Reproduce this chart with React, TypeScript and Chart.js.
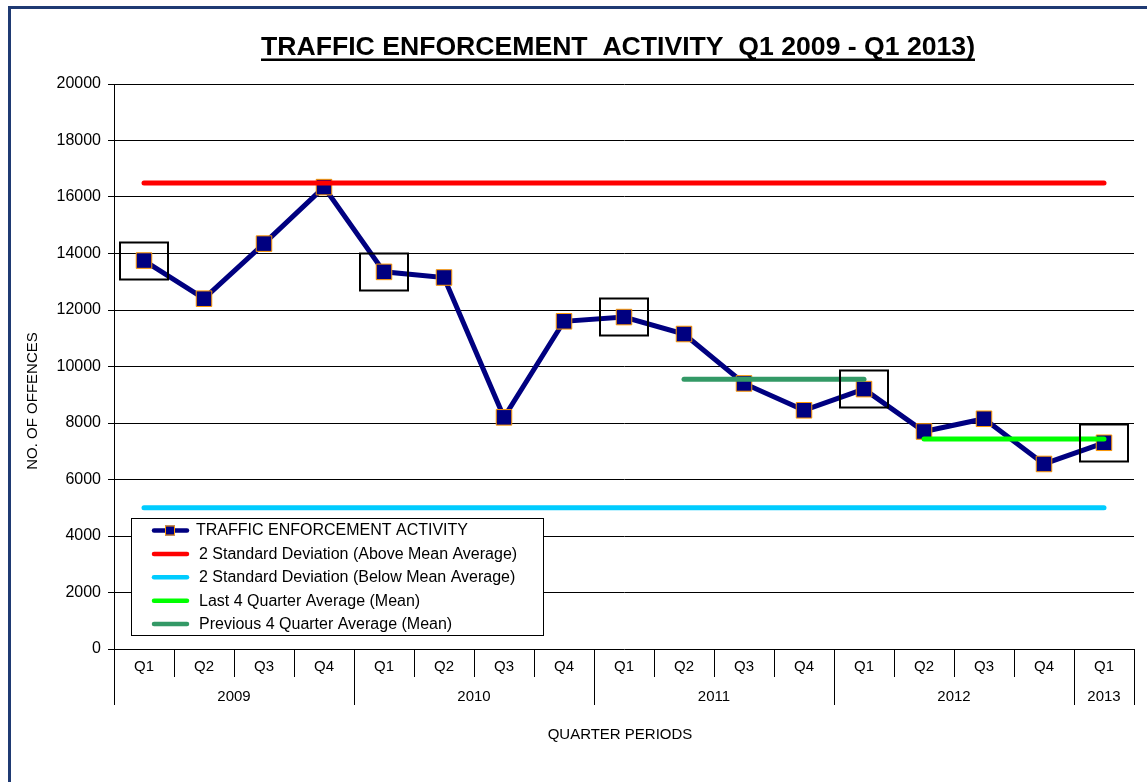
import React, { useEffect, useRef } from "react";
import { Chart, registerables } from "chart.js";

Chart.register(...registerables);

// ---- Data ----
const QUARTERS = ["Q1", "Q2", "Q3", "Q4", "Q1", "Q2", "Q3", "Q4", "Q1", "Q2", "Q3", "Q4", "Q1", "Q2", "Q3", "Q4", "Q1"];
const YEARS = ["2009", "2010", "2011", "2012", "2013"];
const YEAR_SPANS = [4, 4, 4, 4, 1];
const ACTIVITY = [13750, 12400, 14350, 16350, 13350, 13150, 8200, 11600, 11750, 11150, 9400, 8450, 9200, 7700, 8150, 6550, 7300];
const UPPER_2SD = 16500;
const LOWER_2SD = 5000;
const PREV_4Q_AVG = 9550;
const LAST_4Q_AVG = 7430;
const PREV_4Q_INDEXES = [9, 10, 11, 12];
const LAST_4Q_INDEXES = [13, 14, 15, 16];
const Y_MIN = 0;
const Y_MAX = 20000;
const Y_STEP = 2000;

const TITLE = "TRAFFIC ENFORCEMENT  ACTIVITY  Q1 2009 - Q1 2013)";
const Y_TITLE = "NO. OF OFFENCES";
const X_TITLE = "QUARTER PERIODS";
const LEGEND_LABELS = [
  "TRAFFIC ENFORCEMENT ACTIVITY",
  "2 Standard Deviation (Above Mean Average)",
  "2 Standard Deviation (Below Mean Average)",
  "Last 4 Quarter Average (Mean)",
  "Previous 4 Quarter Average (Mean)",
];

const NAVY = "#000080";
const ORANGE = "#FF9900";
const RED = "#FF0000";
const CYAN = "#00CCFF";
const LIME = "#00FF00";
const SEA = "#339966";
const FONT = '"Liberation Sans", Arial, sans-serif';

const constLine = (value: number) => QUARTERS.map(() => value);
const partialLine = (value: number, idx: number[]) => QUARTERS.map((_, i) => (idx.includes(i) ? value : null));

const decorPlugin = {
  id: "decor",
  beforeDraw(chart: any) {
    const ctx = chart.ctx;
    ctx.save();
    ctx.fillStyle = "#ffffff";
    ctx.fillRect(0, 0, chart.width, chart.height);
    ctx.restore();
  },
  afterDatasetsDraw(chart: any) {
    const ctx = chart.ctx;
    const xs = chart.scales.x;
    const ys = chart.scales.y;
    ctx.save();
    ctx.strokeStyle = "#000";
    ctx.lineWidth = 2;
    QUARTERS.forEach((q, i) => {
      if (q !== "Q1") return;
      const x = Math.round(xs.getPixelForValue(i));
      const y = Math.round(ys.getPixelForValue(ACTIVITY[i]));
      ctx.strokeRect(x - 24, y - 18.5, 48, 37);
    });
    ctx.restore();
  },
  afterDraw(chart: any) {
    const ctx = chart.ctx;
    const area = chart.chartArea;
    const xs = chart.scales.x;
    ctx.save();

    // outer frame
    ctx.strokeStyle = "#1F3A73";
    ctx.lineWidth = 3;
    ctx.strokeRect(9.5, 7.5, 1400, 1000);

    // title (bold, underlined)
    ctx.fillStyle = "#000";
    ctx.font = `bold 25px ${FONT}`;
    ctx.textAlign = "left";
    ctx.textBaseline = "alphabetic";
    const rawW = ctx.measureText(TITLE).width;
    const targetW = 714;
    const tLeft = 261;
    ctx.save();
    ctx.translate(tLeft, 55);
    ctx.scale(targetW / rawW, 1);
    ctx.fillText(TITLE, 0, 0);
    ctx.restore();
    ctx.fillRect(tLeft, 58.5, targetW, 2.5);

    // y title
    ctx.save();
    ctx.translate(37, 401);
    ctx.rotate(-Math.PI / 2);
    ctx.font = `15px ${FONT}`;
    ctx.textAlign = "center";
    ctx.textBaseline = "alphabetic";
    ctx.fillText(Y_TITLE, 0, 0);
    ctx.restore();

    // x axis multi-level labels
    const n = QUARTERS.length;
    const w = (area.right - area.left) / n;
    const bottom = area.bottom;
    ctx.strokeStyle = "#000";
    ctx.lineWidth = 1;
    const yearBounds = new Set<number>();
    let acc = 0;
    yearBounds.add(0);
    YEAR_SPANS.forEach((s) => {
      acc += s;
      yearBounds.add(acc);
    });
    for (let k = 0; k <= n; k++) {
      const x = Math.round(area.left + k * w) + 0.5;
      const long = yearBounds.has(k);
      ctx.beginPath();
      ctx.moveTo(x, bottom);
      ctx.lineTo(x, bottom + (long ? 56 : 28));
      ctx.stroke();
    }
    ctx.font = `15px ${FONT}`;
    ctx.textAlign = "center";
    ctx.textBaseline = "middle";
    QUARTERS.forEach((q, i) => {
      ctx.fillText(q, xs.getPixelForValue(i), bottom + 18);
    });
    acc = 0;
    YEARS.forEach((yr, j) => {
      const start = acc;
      acc += YEAR_SPANS[j];
      const cx = area.left + ((start + acc) / 2) * w;
      ctx.fillText(yr, cx, bottom + 48);
    });

    // x title
    ctx.fillText(X_TITLE, 620, 735);

    // legend
    const lx = 131.5, ly = 518.5, lw = 412, lh = 117;
    ctx.fillStyle = "#fff";
    ctx.fillRect(lx, ly, lw, lh);
    ctx.strokeStyle = "#000";
    ctx.lineWidth = 1;
    ctx.strokeRect(lx, ly, lw, lh);
    const colors = [NAVY, RED, CYAN, LIME, SEA];
    ctx.font = `16px ${FONT}`;
    ctx.textAlign = "left";
    ctx.textBaseline = "middle";
    LEGEND_LABELS.forEach((lab, i) => {
      const yy = 530.5 + i * 23.4;
      ctx.strokeStyle = colors[i];
      ctx.lineWidth = 4.5;
      ctx.lineCap = "round";
      ctx.beginPath();
      ctx.moveTo(154, yy);
      ctx.lineTo(187, yy);
      ctx.stroke();
      if (i === 0) {
        ctx.fillStyle = NAVY;
        ctx.fillRect(165, yy - 5, 10, 10);
        ctx.strokeStyle = ORANGE;
        ctx.lineWidth = 1;
        ctx.strokeRect(165.5, yy - 4.5, 9, 9);
      }
      ctx.fillStyle = "#000";
      ctx.fillText(lab, i === 0 ? 196 : 199, yy + 0.5);
    });

    ctx.restore();
  },
};

export default function App() {
  const ref = useRef<HTMLCanvasElement | null>(null);

  useEffect(() => {
    if (!ref.current) return;
    const lineDefaults = {
      pointRadius: 0,
      pointHoverRadius: 0,
      borderWidth: 5,
      borderCapStyle: "round" as const,
      tension: 0,
      spanGaps: false,
      order: 1,
    };
    const chart = new Chart(ref.current, {
      type: "line",
      data: {
        labels: QUARTERS,
        datasets: [
          {
            label: LEGEND_LABELS[0],
            data: ACTIVITY,
            borderColor: NAVY,
            borderWidth: 5,
            pointStyle: "rect",
            pointRadius: 11,
            pointBackgroundColor: NAVY,
            pointBorderColor: ORANGE,
            pointBorderWidth: 1,
            tension: 0,
            order: 2,
          },
          { ...lineDefaults, label: LEGEND_LABELS[1], data: constLine(UPPER_2SD), borderColor: RED },
          { ...lineDefaults, label: LEGEND_LABELS[2], data: constLine(LOWER_2SD), borderColor: CYAN },
          { ...lineDefaults, label: LEGEND_LABELS[3], data: partialLine(LAST_4Q_AVG, LAST_4Q_INDEXES), borderColor: LIME },
          { ...lineDefaults, label: LEGEND_LABELS[4], data: partialLine(PREV_4Q_AVG, PREV_4Q_INDEXES), borderColor: SEA },
        ],
      },
      options: {
        responsive: false,
        animation: false,
        devicePixelRatio: 1,
        layout: { padding: { left: 0, top: 84, right: 13, bottom: 133 } },
        plugins: {
          legend: { display: false },
          title: { display: false },
          tooltip: { enabled: false },
        },
        scales: {
          x: {
            display: false,
            offset: true,
          },
          y: {
            min: Y_MIN,
            max: Y_MAX,
            afterFit: (scale: any) => {
              scale.width = 114;
            },
            ticks: {
              stepSize: Y_STEP,
              color: "#000",
              padding: 7,
              font: { family: FONT, size: 16 },
              callback: (v: any) => String(v),
            },
            grid: {
              color: "#000",
              lineWidth: 1,
              drawTicks: true,
              tickLength: 6,
              tickColor: "#000",
            },
            border: { display: true, color: "#000", width: 1 },
          },
        },
      },
      plugins: [decorPlugin],
    });
    return () => chart.destroy();
  }, []);

  return (
    <div style={{ position: "absolute", left: 0, top: 0, width: 1147, height: 782, overflow: "hidden" }}>
      <canvas ref={ref} width={1147} height={782} style={{ display: "block" }} />
    </div>
  );
}
